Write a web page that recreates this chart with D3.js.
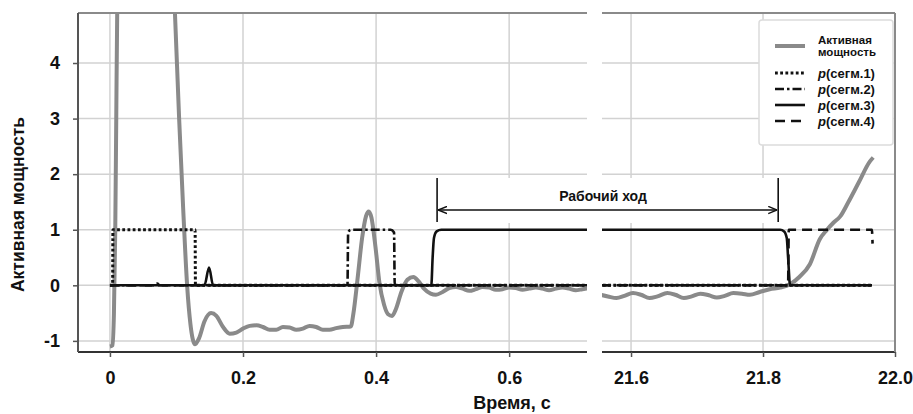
<!DOCTYPE html>
<html>
<head>
<meta charset="utf-8">
<script src="https://cdn.jsdelivr.net/npm/d3@7"></script>
<style>
  body { margin: 0; background: #fff; }
  text { font-family: 'Liberation Sans', Arial, sans-serif; font-weight: bold; fill: #111; }
</style>
</head>
<body>
<svg id="chart" width="913" height="414"></svg>
<script>
// active power, left part of the broken time axis [t, p]
const powerLeft = [
  [0, -1.1], [0.004, -1.08], [0.006, -0.5], [0.008, 1.0], [0.0095, 3.0], [0.011, 5.0],
  [0.03, 10], [0.055, 12], [0.08, 9], [0.0977, 4.9], [0.104, 3.0], [0.110, 1.4],
  [0.116, 0], [0.121, -0.7], [0.128, -1.06], [0.134, -0.95], [0.142, -0.65], [0.152, -0.5],
  [0.16, -0.55], [0.17, -0.75], [0.18, -0.87], [0.19, -0.85], [0.2, -0.78], [0.21, -0.73],
  [0.22, -0.72], [0.23, -0.75], [0.24, -0.8], [0.25, -0.8], [0.26, -0.75], [0.27, -0.76],
  [0.28, -0.8], [0.29, -0.78], [0.3, -0.73], [0.31, -0.75], [0.32, -0.8], [0.33, -0.8],
  [0.34, -0.77], [0.35, -0.75], [0.362, -0.74], [0.366, -0.5], [0.372, 0.1], [0.379, 0.85],
  [0.385, 1.25], [0.389, 1.33], [0.393, 1.22], [0.399, 0.7], [0.405, 0.05], [0.412, -0.35],
  [0.418, -0.52], [0.424, -0.55], [0.43, -0.42], [0.438, -0.12], [0.447, 0.1], [0.456, 0.15],
  [0.464, 0.07], [0.472, -0.06], [0.482, -0.15], [0.49, -0.17], [0.5, -0.12], [0.51, -0.05],
  [0.52, -0.03], [0.53, -0.06], [0.54, -0.1], [0.55, -0.07], [0.56, -0.03], [0.57, -0.04],
  [0.58, -0.08], [0.59, -0.07], [0.6, -0.04], [0.61, -0.05], [0.62, -0.08], [0.63, -0.06],
  [0.64, -0.04], [0.65, -0.06], [0.66, -0.09], [0.67, -0.06], [0.68, -0.04], [0.69, -0.06],
  [0.7, -0.09], [0.71, -0.07], [0.72, -0.05]
];
// active power, right part
const powerRight = [
  [21.55, -0.16], [21.565, -0.2], [21.578, -0.23], [21.59, -0.19], [21.603, -0.14], [21.615, -0.17],
  [21.628, -0.23], [21.64, -0.2], [21.655, -0.14], [21.667, -0.17], [21.68, -0.23], [21.692, -0.2],
  [21.705, -0.15], [21.718, -0.18], [21.73, -0.22], [21.742, -0.19], [21.755, -0.14], [21.768, -0.15],
  [21.78, -0.17], [21.795, -0.12], [21.81, -0.07], [21.826, -0.04], [21.841, 0.02], [21.855, 0.15],
  [21.871, 0.38], [21.886, 0.83], [21.897, 1.0], [21.907, 1.13], [21.917, 1.24], [21.929, 1.49],
  [21.945, 1.85], [21.962, 2.23], [21.967, 2.3]
];
// segment probabilities
const seg1 = [[0, 0], [0.004, 0], [0.0045, 1], [0.128, 1], [0.1285, 0], [21.965, 0]];
const seg2 = [[0, 0], [0.066, 0], [0.071, 0.03], [0.076, 0], [0.357, 0], [0.358, 0.95], [0.362, 1],
  [0.422, 1], [0.427, 0.95], [0.428, 0], [21.965, 0]];
const seg3 = [[0, 0], [0.142, 0], [0.149, 0.32], [0.155, 0], [0.483, 0], [0.485, 0.5], [0.487, 0.85],
  [0.491, 0.97], [0.498, 1], [21.826, 1], [21.832, 0.97], [21.836, 0.85], [21.838, 0.5], [21.841, 0],
  [21.965, 0]];
const seg4 = [[0, 0], [21.838, 0], [21.839, 1], [21.965, 1], [21.966, 0.75]];

const xTicksLeft = [0, 0.2, 0.4, 0.6];
const xTicksRight = [21.6, 21.8, 22.0];
const yTicks = [-1, 0, 1, 2, 3, 4];
const workStroke = [0.4917, 21.823];   // "Рабочий ход" limits

const legendItems = [
  { label: ['Активная', 'мощность'], stroke: '#8a8a8a', width: 4, dash: null },
  { label: 'p(сегм.1)', stroke: '#111', width: 3, dash: '2.8,2.4' },
  { label: 'p(сегм.2)', stroke: '#111', width: 2.6, dash: '9,3,2.5,3' },
  { label: 'p(сегм.3)', stroke: '#111', width: 2.6, dash: null },
  { label: 'p(сегм.4)', stroke: '#111', width: 2.6, dash: '10,6' }
];

const svg = d3.select('#chart');
const yTop = 13, yBottom = 352;
const y = d3.scaleLinear().domain([-1.2, 4.9]).range([yBottom, yTop]);
const panels = [
  { id: 'L', x: d3.scaleLinear().domain([-0.048, 0.717]).range([78, 587]), ticks: xTicksLeft, power: powerLeft },
  { id: 'R', x: d3.scaleLinear().domain([21.556, 22.0]).range([602, 895]), ticks: xTicksRight, power: powerRight }
];
const series = [
  { data: seg1, item: legendItems[1] },
  { data: seg2, item: legendItems[2] },
  { data: seg4, item: legendItems[4] },
  { data: seg3, item: legendItems[3] }
];

const defs = svg.append('defs');
panels.forEach(p => {
  const [x0, x1] = p.x.range();
  defs.append('clipPath').attr('id', 'clip' + p.id)
    .append('rect').attr('x', x0).attr('y', yTop).attr('width', x1 - x0).attr('height', yBottom - yTop);
});
defs.append('marker').attr('id', 'arrow').attr('viewBox', '0 0 10 10')
  .attr('refX', 10).attr('refY', 5).attr('markerWidth', 9).attr('markerHeight', 9)
  .attr('markerUnits', 'userSpaceOnUse').attr('orient', 'auto-start-reverse')
  .append('path').attr('d', 'M0,1 L10,5 L0,9').attr('fill', 'none').attr('stroke', '#111').attr('stroke-width', 1.6);

// grid
panels.forEach(p => {
  const [x0, x1] = p.x.range();
  const g = svg.append('g').attr('class', 'grid');
  g.selectAll('line.h').data(yTicks).join('line')
    .attr('x1', x0).attr('x2', x1).attr('y1', d => y(d)).attr('y2', d => y(d))
    .attr('stroke', '#d2d2d2').attr('stroke-width', 1.5);
  g.selectAll('line.v').data(p.ticks.filter(t => p.x(t) < x1 - 1)).join('line')
    .attr('x1', d => p.x(d)).attr('x2', d => p.x(d)).attr('y1', yTop).attr('y2', yBottom)
    .attr('stroke', '#d2d2d2').attr('stroke-width', 1.5);
});

// annotation background
const xa = panels[0].x(workStroke[0]), xb = panels[1].x(workStroke[1]);
svg.append('rect').attr('x', xa + 2).attr('y', 178).attr('width', xb - xa - 4).attr('height', 45).attr('fill', '#fff');

const line = d3.line().x(d => d[0]).y(d => y(d[1])).curve(d3.curveMonotoneX);

panels.forEach(p => {
  const g = svg.append('g').attr('clip-path', `url(#clip${p.id})`);
  const toPx = arr => arr.map(d => [p.x(d[0]), d[1]]);
  g.append('path').attr('d', line(toPx(p.power)))
    .attr('fill', 'none').attr('stroke', '#8a8a8a').attr('stroke-width', 4).attr('stroke-linejoin', 'round');
  series.forEach(s => {
    g.append('path').attr('d', line(toPx(s.data)))
      .attr('fill', 'none').attr('stroke', s.item.stroke).attr('stroke-width', s.item.width)
      .attr('stroke-dasharray', s.item.dash);
  });
});

// frame and axes
panels.forEach(p => {
  const [x0, x1] = p.x.range();
  svg.append('line').attr('x1', x0).attr('x2', x1).attr('y1', yTop).attr('y2', yTop)
    .attr('stroke', '#8a8a8a').attr('stroke-width', 2);
  const ax = svg.append('g').attr('transform', `translate(0,${yBottom})`)
    .call(d3.axisBottom(p.x).tickValues(p.ticks).tickSize(5).tickPadding(14)
      .tickFormat(d => d === 0 ? '0' : d3.format('.1f')(d)));
  ax.select('.domain').attr('stroke', '#333').attr('stroke-width', 2).attr('d', `M${x0},0H${x1}`);
  ax.selectAll('.tick line').attr('stroke', '#555').attr('stroke-width', 1.5);
  ax.selectAll('.tick text').attr('font-size', 18).attr('font-family', null).attr('fill', '#111');
});
svg.append('line').attr('x1', 895).attr('x2', 895).attr('y1', yTop).attr('y2', yBottom)
  .attr('stroke', '#8a8a8a').attr('stroke-width', 2);

const ay = svg.append('g').attr('transform', 'translate(78,0)')
  .call(d3.axisLeft(y).tickValues(yTicks).tickSize(5).tickPadding(13).tickFormat(d => String(d)));
ay.select('.domain').attr('stroke', '#555').attr('stroke-width', 2).attr('d', `M0,${yTop}V${yBottom}`);
ay.selectAll('.tick line').attr('stroke', '#555').attr('stroke-width', 1.5);
ay.selectAll('.tick text').attr('font-size', 18).attr('font-family', null).attr('fill', '#111');

// axis titles
svg.append('text').attr('transform', `translate(24,${(yTop + yBottom) / 2 + 22}) rotate(-90)`)
  .attr('text-anchor', 'middle').attr('font-size', 17.5).text('Активная мощность');
svg.append('text').attr('x', 512).attr('y', 409).attr('text-anchor', 'middle')
  .attr('font-size', 18).text('Время, с');

// "Рабочий ход" annotation
[xa, xb].forEach(xv => svg.append('line').attr('x1', xv).attr('x2', xv).attr('y1', 178).attr('y2', 222)
  .attr('stroke', '#111').attr('stroke-width', 1.6));
svg.append('line').attr('x1', xa + 1).attr('x2', xb - 1).attr('y1', 210).attr('y2', 210)
  .attr('stroke', '#111').attr('stroke-width', 1.4)
  .attr('marker-start', 'url(#arrow)').attr('marker-end', 'url(#arrow)');
svg.append('text').attr('x', 603).attr('y', 201).attr('text-anchor', 'middle')
  .attr('font-size', 14).text('Рабочий ход');

// legend
const lg = svg.append('g');
lg.append('rect').attr('x', 759).attr('y', 20).attr('width', 134).attr('height', 125).attr('rx', 3)
  .attr('fill', '#fff').attr('stroke', '#dcdcdc').attr('stroke-width', 1.5);
const rowY = [46, 73, 89, 105, 121];
legendItems.forEach((it, i) => {
  lg.append('line').attr('x1', 775).attr('x2', 805).attr('y1', rowY[i]).attr('y2', rowY[i])
    .attr('stroke', it.stroke).attr('stroke-width', it.width).attr('stroke-dasharray', it.dash);
  if (Array.isArray(it.label)) {
    it.label.forEach((l, j) => lg.append('text').attr('x', 818).attr('y', rowY[i] - 2 + j * 12)
      .attr('font-size', 11.5).text(l));
  } else {
    const t = lg.append('text').attr('x', 818).attr('y', rowY[i] + 5).attr('font-size', 13);
    t.append('tspan').attr('font-style', 'italic').text('p');
    t.append('tspan').text(it.label.slice(1));
  }
});
</script>
</body>
</html>
